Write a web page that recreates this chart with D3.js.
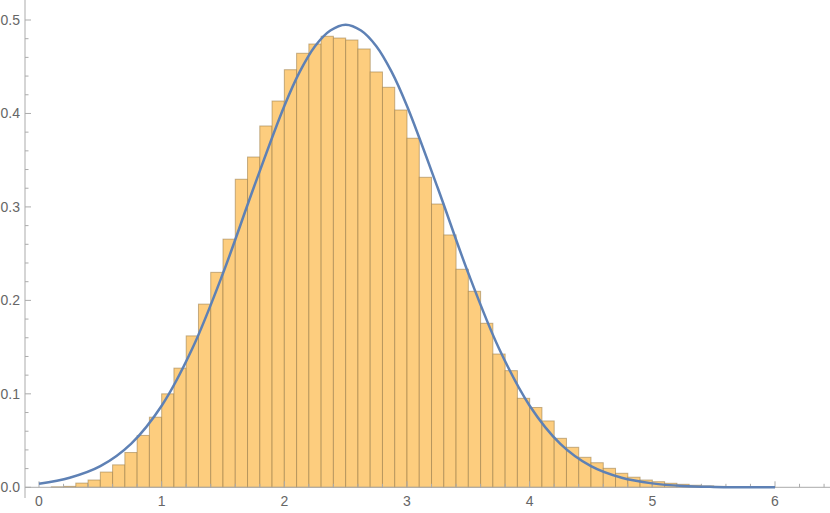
<!DOCTYPE html>
<html>
<head>
<meta charset="utf-8">
<script src="https://cdn.jsdelivr.net/npm/d3@7"></script>
<style>
  html, body { margin: 0; padding: 0; background: #fff; }
  svg { display: block; }
</style>
</head>
<body>
<svg id="chart" width="830" height="513"></svg>
<script>
// ---- data ----
const binStart = 0;      // first bin left edge
const binWidth = 0.1;    // bin width
const binHeights = [
  0, 0.0005, 0.001, 0.0045, 0.0078, 0.0163, 0.024, 0.0372, 0.0555, 0.075,
  0.100, 0.1275, 0.162, 0.196, 0.230, 0.2655, 0.3296, 0.3534, 0.3866, 0.4133,
  0.4468, 0.4644, 0.4743, 0.4826, 0.4807, 0.4786, 0.4690, 0.4444, 0.428, 0.4037,
  0.3735, 0.3317, 0.3031, 0.270, 0.2333, 0.2097, 0.1755, 0.1426, 0.1248, 0.0952,
  0.0854, 0.071, 0.0524, 0.0428, 0.0321, 0.0263, 0.0203, 0.015, 0.0108, 0.0078,
  0.006, 0.0043, 0.0032, 0.0022, 0.0015, 0.001, 0.0007, 0.0004, 0.0002, 0.0001
];
const curveX = [0, 0.25, 0.5, 0.75, 1.0, 1.25, 1.5, 1.75, 2.0, 2.125, 2.25, 2.375, 2.5, 2.625, 2.75, 2.875, 3.0,
                3.25, 3.5, 3.75, 4.0, 4.25, 4.5, 4.75, 5.0, 5.25, 5.5, 5.75, 6.0];
const curveY = [0.0037, 0.0102, 0.0226, 0.0465, 0.0873, 0.1485, 0.229, 0.3205, 0.408, 0.4445, 0.472, 0.4888, 0.495, 0.4888, 0.472, 0.4445, 0.408,
                0.3205, 0.229, 0.1485, 0.0873, 0.0465, 0.0226, 0.0102, 0.0042, 0.0014, 0.0004, 0.0001, 0.0];
const xMajorTicks = [0, 1, 2, 3, 4, 5, 6];
const xMinorTicks = [0.2, 0.4, 0.6, 0.8, 1.2, 1.4, 1.6, 1.8, 2.2, 2.4, 2.6, 2.8, 3.2, 3.4, 3.6, 3.8,
                     4.2, 4.4, 4.6, 4.8, 5.2, 5.4, 5.6, 5.8, 6.2, 6.4];
const yMajorTicks = [0, 0.1, 0.2, 0.3, 0.4, 0.5];
const yTickLabels = ["0.0", "0.1", "0.2", "0.3", "0.4", "0.5"];
const yMinorTicks = [0.02, 0.04, 0.06, 0.08, 0.12, 0.14, 0.16, 0.18, 0.22, 0.24, 0.26, 0.28,
                     0.32, 0.34, 0.36, 0.38, 0.42, 0.44, 0.46, 0.48];

// ---- scales ----
const svg = d3.select("#chart");
const x = d3.scaleLinear().domain([0, 6]).range([39, 775]);
const y = d3.scaleLinear().domain([0, 0.5]).range([487.3, 20]);

const axisColor = "#ababab";
const labelColor = "#666";
const font = "'Liberation Sans', Arial, sans-serif";

// ---- bars ----
svg.append("g").selectAll("rect")
  .data(binHeights.map((h, i) => ({ x0: binStart + i * binWidth, x1: binStart + (i + 1) * binWidth, h })))
  .join("rect")
  .filter(d => d.h > 0)
  .attr("x", d => x(d.x0))
  .attr("width", d => x(d.x1) - x(d.x0))
  .attr("y", d => y(d.h))
  .attr("height", d => y(0) - y(d.h))
  .attr("fill", "#fdcd7e")
  .attr("stroke", "rgba(150,120,70,0.55)")
  .attr("stroke-width", 1);

// ---- axes ----
const axesG = svg.append("g");
axesG.append("line")
  .attr("x1", 25).attr("x2", 830)
  .attr("y1", y(0)).attr("y2", y(0))
  .attr("stroke", axisColor).attr("stroke-width", 1);
axesG.append("line")
  .attr("x1", 25).attr("x2", 25)
  .attr("y1", 0).attr("y2", 498)
  .attr("stroke", axisColor).attr("stroke-width", 1);

axesG.selectAll(".xmaj").data(xMajorTicks).join("line")
  .attr("x1", d => x(d)).attr("x2", d => x(d))
  .attr("y1", y(0)).attr("y2", y(0) - 6)
  .attr("stroke", axisColor);
axesG.selectAll(".xmin").data(xMinorTicks).join("line")
  .attr("x1", d => x(d)).attr("x2", d => x(d))
  .attr("y1", y(0)).attr("y2", y(0) - 3.5)
  .attr("stroke", axisColor);
axesG.selectAll(".xlab").data(xMajorTicks).join("text")
  .attr("x", d => x(d)).attr("y", 506)
  .attr("text-anchor", "middle")
  .attr("font-family", font).attr("font-size", 14)
  .attr("fill", labelColor)
  .text(d => d);

axesG.selectAll(".ymaj").data(yMajorTicks).join("line")
  .attr("x1", 25).attr("x2", 31)
  .attr("y1", d => y(d)).attr("y2", d => y(d))
  .attr("stroke", axisColor);
axesG.selectAll(".ymin").data(yMinorTicks).join("line")
  .attr("x1", 25).attr("x2", 28.5)
  .attr("y1", d => y(d)).attr("y2", d => y(d))
  .attr("stroke", axisColor);
axesG.selectAll(".ylab").data(yMajorTicks).join("text")
  .attr("x", 20).attr("y", d => y(d) + 5)
  .attr("text-anchor", "end")
  .attr("font-family", font).attr("font-size", 14)
  .attr("fill", labelColor)
  .text((d, i) => yTickLabels[i]);

// ---- curve ----
const line = d3.line()
  .x(d => x(d[0]))
  .y(d => y(d[1]))
  .curve(d3.curveCatmullRom.alpha(0.5));
svg.append("path")
  .datum(curveX.map((v, i) => [v, curveY[i]]))
  .attr("d", line)
  .attr("fill", "none")
  .attr("stroke", "#5e81b5")
  .attr("stroke-width", 2.5);
</script>
</body>
</html>
